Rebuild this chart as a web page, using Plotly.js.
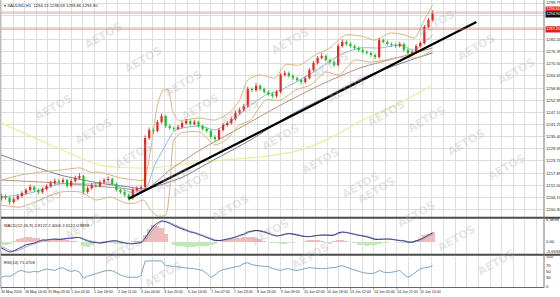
<!DOCTYPE html>
<html><head><meta charset="utf-8">
<script src="https://cdn.plot.ly/plotly-3.0.1.min.js"></script>
<style>html,body{margin:0;padding:0;background:#fff;overflow:hidden}#chart{width:560px;height:297px}</style>
</head><body><div id="chart"></div>
<script>
// ---------- DATA ----------
const openP = [1205.5,1206.8,1205.8,1203.9,1205.3,1206.8,1208.2,1209.7,1211.1,1209.7,
1208.7,1210.2,1211.6,1213.0,1214.0,1213.5,1214.5,1211.6,1214.0,1215.5,
1216.4,1208.7,1210.6,1212.1,1211.6,1213.5,1214.5,1215.0,1212.6,1209.7,
1208.7,1207.3,1205.8,1209.7,1210.6,1211.1,1234.7,1238.6,1238.1,1242.4,
1245.3,1240.5,1239.5,1239.1,1240.0,1241.9,1242.9,1241.5,1242.4,1240.5,
1239.1,1238.1,1235.2,1234.2,1238.6,1241.0,1241.9,1243.9,1246.8,1248.2,
1250.1,1258.3,1257.8,1259.8,1258.3,1256.9,1255.9,1255.0,1256.9,1265.1,
1266.0,1264.6,1263.6,1262.7,1261.7,1263.6,1267.5,1270.9,1273.3,1274.2,
1272.3,1271.3,1269.9,1279.0,1281.0,1280.0,1279.0,1278.1,1277.1,1276.2,
1275.7,1274.7,1273.7,1281.9,1281.0,1280.0,1279.5,1279.0,1280.0,1277.1,
1275.7,1276.2,1279.0,1280.5,1288.2,1291.6];
const highP = [1208.0,1207.6,1206.5,1206.2,1207.5,1209.1,1210.6,1212.3,1211.8,1210.5,
1211.0,1212.4,1214.1,1215.2,1214.9,1215.6,1215.1,1214.9,1216.6,1217.8,
1217.0,1211.5,1213.0,1212.9,1214.4,1215.4,1216.2,1215.7,1213.3,1210.4,
1209.5,1208.0,1210.6,1211.5,1212.0,1236.0,1239.8,1239.6,1243.5,1246.6,
1246.0,1241.3,1240.3,1241.0,1242.9,1243.9,1243.6,1243.4,1243.1,1241.2,
1239.8,1238.8,1236.0,1239.5,1242.0,1242.8,1244.9,1247.8,1249.3,1251.2,
1259.4,1259.1,1261.2,1260.6,1259.0,1257.7,1256.6,1257.8,1266.0,1267.2,
1266.8,1265.4,1264.3,1263.4,1264.5,1268.4,1271.9,1274.2,1275.6,1275.0,
1273.0,1272.0,1280.1,1282.2,1281.8,1280.8,1279.7,1278.8,1277.9,1277.0,
1276.4,1275.5,1283.0,1282.7,1281.8,1280.8,1280.3,1281.1,1280.7,1277.9,
1277.0,1279.8,1281.3,1289.2,1292.5,1296.2];
const lowP = [1204.6,1204.9,1202.6,1203.2,1204.6,1206.1,1207.4,1208.9,1208.8,1207.6,
1208.0,1209.5,1210.9,1212.2,1212.6,1212.8,1210.7,1211.0,1213.3,1214.8,
1207.5,1207.9,1209.9,1210.8,1210.9,1212.8,1213.7,1211.8,1208.9,1207.9,
1206.4,1204.6,1205.1,1208.9,1209.8,1210.2,1233.9,1236.8,1237.4,1241.6,
1239.6,1238.7,1238.2,1238.4,1239.3,1241.1,1240.7,1240.8,1239.8,1238.3,
1237.3,1234.4,1232.9,1233.5,1237.9,1240.2,1241.2,1243.1,1246.0,1247.5,
1249.4,1256.9,1257.0,1257.5,1256.1,1255.1,1254.0,1254.2,1256.2,1264.3,
1263.8,1262.7,1261.8,1260.6,1261.0,1262.9,1266.8,1270.1,1272.5,1271.5,
1270.5,1268.8,1269.2,1278.3,1279.2,1278.3,1277.2,1276.3,1275.4,1274.9,
1273.8,1272.6,1273.0,1280.2,1279.3,1278.7,1278.2,1278.3,1276.3,1274.8,
1275.0,1275.5,1278.3,1279.8,1287.5,1290.8];
const closeP = [1206.8,1205.8,1203.9,1205.3,1206.8,1208.2,1209.7,1211.1,1209.7,1208.7,
1210.2,1211.6,1213.0,1214.0,1213.5,1214.5,1211.6,1214.0,1215.5,1216.4,
1208.7,1210.6,1212.1,1211.6,1213.5,1214.5,1215.0,1212.6,1209.7,1208.7,
1207.3,1205.8,1209.7,1210.6,1211.1,1234.7,1238.6,1238.1,1242.4,1245.3,
1240.5,1239.5,1239.1,1240.0,1241.9,1242.9,1241.5,1242.4,1240.5,1239.1,
1238.1,1235.2,1234.2,1238.6,1241.0,1241.9,1243.9,1246.8,1248.2,1250.1,
1258.3,1257.8,1259.8,1258.3,1256.9,1255.9,1255.0,1256.9,1265.1,1266.0,
1264.6,1263.6,1262.7,1261.7,1263.6,1267.5,1270.9,1273.3,1274.2,1272.3,
1271.3,1269.9,1279.0,1281.0,1280.0,1279.0,1278.1,1277.1,1276.2,1275.7,
1274.7,1273.7,1281.9,1281.0,1280.0,1279.5,1279.0,1280.0,1277.1,1275.7,
1276.2,1279.0,1280.5,1288.2,1291.6,1294.9];
// hourly bar number of each drawn candle (one candle per 3 H1 bars)
const barNo = closeP.map((_, k) => k * 3);

// overlay lines: [bar number, price]
const bbUpperX = [0,14,28,43,58,65,72,87,98,104,109,114,118,122,125,129,145,156,167,174,180,189,200,207,218,229,240,251,262,273,284,295,302,309,315];
const bbUpperY = [1214.5,1216.9,1218.3,1219.3,1220.3,1218.3,1218.3,1215.5,1214.5,1214.5,1228.9,1250.6,1257.8,1257.8,1248.2,1243.4,1244.4,1243.4,1247.2,1253.0,1262.7,1265.1,1263.6,1269.9,1269.9,1274.7,1278.1,1284.3,1283.9,1281.9,1285.3,1284.3,1282.9,1291.6,1298.8];
const bbLowerX = [0,14,28,43,58,69,80,91,98,104,109,114,120,123,126,131,145,156,164,174,182,193,204,215,226,237,247,258,269,280,291,302,309,315];
const bbLowerY = [1202.4,1201.5,1204.9,1208.7,1208.7,1204.9,1206.3,1203.4,1203.4,1204.9,1200.0,1197.2,1197.6,1209.7,1233.8,1237.1,1237.6,1231.4,1233.8,1241.0,1243.4,1253.0,1253.0,1257.8,1260.3,1266.5,1265.1,1272.3,1271.3,1272.3,1273.7,1273.3,1274.7,1277.1];
const maFastX = [0,21,43,65,80,94,105,112,120,127,145,156,167,182,193,204,218,233,247,262,277,291,302,309,315];
const maFastY = [1206.3,1208.2,1212.6,1212.6,1213.0,1208.7,1209.7,1221.7,1231.4,1238.6,1240.5,1238.6,1242.4,1250.6,1255.4,1257.8,1262.7,1268.5,1274.7,1278.1,1278.1,1279.5,1277.1,1281.0,1284.3];
const maMidX = [0,43,87,105,123,145,174,204,233,262,291,315];
const maMidY = [1214.5,1213.0,1210.6,1209.7,1219.3,1228.9,1239.5,1250.6,1260.3,1268.5,1273.7,1278.1];
const maSlowX = [0,21,43,72,94,105,131,155,182,211,240,269,299,315];
const maSlowY = [1226.5,1221.7,1216.9,1213.0,1211.1,1210.2,1215.5,1224.1,1233.8,1245.8,1255.4,1265.1,1272.3,1275.7];
const ma200X = [0,36,72,109,145,189,218,240,264,291,315];
const ma200Y = [1241.9,1231.4,1221.7,1220.3,1223.2,1225.6,1228.9,1234.7,1243.4,1251.6,1260.3];
const trendX = [93, 347];
const trendY = [1205.5, 1290.6];
const levelLine = 1287.2;
const askLevel = 1296.6;

// MACD panel
const macdMain = [-2.1,-2.8,-3.4,-3.1,-2.4,-1.8,-1.1,-0.8,-0.5,0,
0.5,0.5,0.7,0.8,0.7,0.8,1.0,1.1,1.3,1.3,
0.7,0.2,-0.2,-0.3,-0.5,-0.3,0,0.2,0.2,-0.2,
-0.5,-0.7,-0.7,-0.5,-0.3,1.1,3.1,5.0,6.0,6.7,
6.4,5.9,5.2,4.6,4.1,3.6,3.1,2.8,2.3,1.8,
1.3,0.8,0.3,0.3,0.5,0.8,1.1,1.5,2.0,2.4,
3.1,3.4,3.6,3.4,3.1,2.6,2.1,1.8,2.0,2.4,
2.6,2.4,2.1,1.8,1.6,1.6,1.8,2.0,2.1,2.1,
2.0,2.1,2.8,3.1,2.9,2.6,2.3,2.0,1.8,1.5,
1.1,0.7,0.7,0.8,0.8,0.7,0.5,0.3,0.2,-0.2,
-0.2,0.2,0.7,1.3,2.1,2.8];
const macdSignal = [-1.6,-2.2,-2.8,-3.1,-2.9,-2.4,-1.8,-1.2,-0.8,-0.4,
0.1,0.4,0.6,0.7,0.7,0.8,0.9,1.0,1.2,1.3,
1.0,0.5,0.1,-0.2,-0.4,-0.4,-0.2,0.1,0.2,0.0,
-0.3,-0.6,-0.7,-0.6,-0.4,0.3,2.0,4.0,5.5,6.4,
6.6,6.2,5.6,5.0,4.4,3.9,3.4,3.0,2.6,2.1,
1.6,1.1,0.6,0.3,0.4,0.6,0.9,1.3,1.7,2.2,
2.7,3.2,3.5,3.5,3.3,2.9,2.4,2.0,1.9,2.2,
2.5,2.5,2.3,2.0,1.7,1.6,1.7,1.9,2.0,2.1,
2.1,2.1,2.4,2.9,3.0,2.8,2.5,2.2,1.9,1.7,
1.3,0.9,0.7,0.7,0.8,0.8,0.6,0.4,0.3,0.0,
-0.2,0.0,0.4,1.0,1.7,2.4];
const macdHist = [-1.0,-1.2,-0.8,0.3,0.9,1.3,1.5,1.5,1.3,1.0,
0.6,0.5,0.6,0.7,0.6,0.5,0.4,0.3,0.2,-0.3,
-1.5,-1.8,-1.2,-0.6,-0.3,0.1,-0.2,-0.5,-0.8,-0.7,
-0.4,-0.2,0.1,0.2,0.3,2.0,4.2,5.4,5.2,4.5,
2.5,-0.3,-1.0,-1.4,-1.6,-1.8,-1.8,-1.7,-1.6,-1.5,
-1.3,-1.2,-0.8,-0.3,0.1,0.4,0.7,1.0,1.2,1.4,
1.5,1.4,1.2,0.8,0.3,-0.2,-0.5,-0.6,-0.7,-0.8,
-0.6,-0.4,-0.3,-0.2,0.2,0.4,0.6,0.5,0.3,-0.5,
-0.7,0.3,0.6,0.5,0.2,-0.3,-0.6,-1.0,-1.2,-1.3,
-1.2,-1.0,-0.7,-0.5,-0.4,-0.3,-0.3,-0.4,-0.5,-0.6,
-0.4,0.4,1.2,2.0,2.6,3.0];
// RSI panel
const rsi = [32,37,35,42,52,55,50,49,52,50,
56,60,58,55,62,64,56,52,55,50,
29,36,40,45,49,53,55,54,48,40,
35,32,33,32,38,86,87,87,87,87,
71,71,68,66,65,64,62,61,58,55,
45,32,40,52,58,61,64,68,70,78,
81,74,71,70,69,68,62,58,55,60,
61,57,55,58,62,65,63,61,61,62,
63,65,68,71,66,61,57,52,48,46,
45,47,55,50,48,49,52,55,42,32,
40,50,61,64,66,71];

// tick labels
const timeLabels = ["30 May 2016","30 May 16:00","31 May 09:00","1 Jun 02:00","1 Jun 18:00","2 Jun 11:00","3 Jun 04:00","3 Jun 20:00","6 Jun 14:00","7 Jun 07:00","7 Jun 23:00","8 Jun 16:00","9 Jun 09:00","10 Jun 02:00","10 Jun 18:00","13 Jun 12:00","14 Jun 05:00","14 Jun 21:00","15 Jun 14:00"];
const labelEvery = 17;           // bars between time labels
const macdTickVals = [7.0, 0, -3.2];
const macdTickText = ["6.9898","0.00","-3.6594"];
const rsiTickVals = [100, 70, 50, 30, 0];

// ---------- CHART ----------
const W = 544, H = 297;
const py = p => 1 - p / H;
const xRange = [-1, 396.4];

const gridTickVals = [];
for (let i = 0; i * labelEvery / 2 <= xRange[1]; i++) gridTickVals.push(i * labelEvery / 2);

const gridC = "#dedede";
const fnt = {family: "Liberation Sans, Arial, sans-serif", size: 4.2, color: "#222"};
const fntS = {...fnt, size: 3.6};

const line = (x, y, color, w, ya) => ({type: "scatter", mode: "lines", x, y, xaxis: "x", yaxis: ya || "y",
  line: {color, width: w, shape: "spline", smoothing: 0.6}, hoverinfo: "skip"});

// candles drawn as wick + body segments through the price scale
function candleSegs(up) {
  const wx = [], wy = [], bx = [], by = [];
  closeP.forEach((c, k) => {
    const o = openP[k];
    if ((c >= o) !== up) return;
    wx.push(barNo[k], barNo[k], null); wy.push(lowP[k], highP[k], null);
    const lo = Math.min(o, c), hi = Math.max(o, c);
    bx.push(barNo[k], barNo[k], null); by.push(lo, hi === lo ? hi + 0.3 : hi, null);
  });
  const col = up ? "#e8251c" : "#1fbf2a";
  return [
    {type: "scatter", mode: "lines", x: wx, y: wy, xaxis: "x", yaxis: "y", line: {color: col, width: 0.9}, hoverinfo: "skip"},
    {type: "scatter", mode: "lines", x: bx, y: by, xaxis: "x", yaxis: "y", line: {color: col, width: 2.2}, hoverinfo: "skip"}
  ];
}

const traces = [
  line(ma200X, ma200Y, "#eeeaa0", 1.2),
  line(maSlowX, maSlowY, "#7c7c98", 1),
  line(maMidX, maMidY, "#b89080", 1),
  line(bbUpperX, bbUpperY, "#d8b47e", 1),
  line(bbLowerX, bbLowerY, "#d8b47e", 1),
  line(maFastX, maFastY, "#8db8d8", 1),
  ...candleSegs(true), ...candleSegs(false),
  {type: "scatter", mode: "lines", x: trendX, y: trendY, xaxis: "x", yaxis: "y",
   line: {color: "#000", width: 2.2}, hoverinfo: "skip"},
  // MACD
  {type: "bar", x: barNo, y: macdHist, xaxis: "x", yaxis: "y2", width: 3,
   marker: {color: macdHist.map(v => v >= 0 ? "#ecbcbc" : "#bfe9b6"), line: {width: 0}}, hoverinfo: "skip"},
  line(barNo, macdSignal, "#a4a4c4", 1, "y2"),
  line(barNo, macdMain, "#25307f", 1, "y2"),
  // RSI
  {type: "scatter", mode: "lines", x: barNo, y: rsi, xaxis: "x", yaxis: "y3",
   line: {color: "#7aa6c6", width: 1}, hoverinfo: "skip"}
];

const annotations = [];
// watermark
for (let i = -4; i <= 6; i++) for (let j = -4; j <= 14; j++) {
  const ax = 160 + 130 * i + 40 * j, ay = 65 - 42 * i + 24 * j;
  if (ax > 5 && ax < 550 && ay > 0 && ay < 296) {
    annotations.push({xref: "paper", yref: "paper", x: ax / W, y: py(ay), text: "<b>AETOS</b>",
      showarrow: false, textangle: -30, font: {family: "DejaVu Sans", size: 11, color: "rgba(170,170,170,0.3)"}});
  }
}
// time labels
timeLabels.forEach((t, i) => annotations.push({xref: "x", yref: "paper", x: i * labelEvery, y: py(289.2), xanchor: "left",
  yanchor: "top", showarrow: false, text: t, font: fntS, xshift: -1, borderpad: 0}));
const boxLabel = (yv, txt, bg) => ({xref: "paper", yref: "y", x: 1.0, y: yv, xanchor: "left", showarrow: false,
  text: txt, bgcolor: bg, font: {...fnt, size: 3.8, color: "#fff"}, borderpad: 0.3, xshift: 0.5});
annotations.push(
  {xref: "paper", yref: "paper", x: 0.004, y: py(1.2), xanchor: "left", yanchor: "top", showarrow: false,
   text: "▾ XAUUSD,H1  1294.13 1296.59 1293.86 1294.90", font: fnt},
  {xref: "paper", yref: "paper", x: 0.004, y: py(220.5), xanchor: "left", yanchor: "top", showarrow: false,
   text: "MACD(12,26,9) 2.8122 2.4006 2.6122 0.9998", font: fnt},
  {xref: "paper", yref: "paper", x: 0.004, y: py(257.6), xanchor: "left", yanchor: "top", showarrow: false,
   text: "RSI(14) 71.4708", font: fnt},
  boxLabel(askLevel, askLevel.toFixed(2), "#e02020"),
  boxLabel(closeP[closeP.length - 1] - 0.9, closeP[closeP.length - 1].toFixed(2), "#111"),
  boxLabel(levelLine, levelLine.toFixed(2), "#e02020")
);

const shapes = [
  {type: "line", xref: "paper", yref: "y", x0: 0, x1: 1, y0: closeP[closeP.length - 1], y1: closeP[closeP.length - 1],
   line: {color: "#b8b8b8", width: 0.8}},
  {type: "line", xref: "paper", yref: "y", x0: 0, x1: 1, y0: askLevel - 1.2, y1: askLevel - 1.2, line: {color: "#f0a8a8", width: 0.8}},
  {type: "line", xref: "paper", yref: "y", x0: 0, x1: 1, y0: levelLine, y1: levelLine, line: {color: "#e06a6a", width: 0.8}},
  {type: "line", xref: "paper", yref: "paper", x0: 0, x1: 560 / W, y0: py(217.8), y1: py(217.8), line: {color: "#4a4a4a", width: 2}},
  {type: "line", xref: "paper", yref: "paper", x0: 0, x1: 560 / W, y0: py(254.8), y1: py(254.8), line: {color: "#4a4a4a", width: 2}},
  {type: "line", xref: "paper", yref: "paper", x0: 0, x1: 1, y0: py(287.5), y1: py(287.5), line: {color: "#666", width: 1}},
  {type: "line", xref: "paper", yref: "paper", x0: 1, x1: 1, y0: py(0), y1: py(288), line: {color: "#777", width: 1}},
  {type: "line", xref: "paper", yref: "paper", x0: 0.001, x1: 0.001, y0: py(0), y1: py(288), line: {color: "#bbb", width: 1}}
];
// small tick marks under time labels
timeLabels.forEach((t, i) => shapes.push({type: "line", xref: "x", yref: "paper", x0: i * labelEvery, x1: i * labelEvery,
  y0: py(287.5), y1: py(289.5), line: {color: "#777", width: 0.8}}));

const yCommon = {side: "right", showline: false, ticks: "", tickfont: fnt, gridcolor: gridC, gridwidth: 1,
  zeroline: false, fixedrange: true, ticklabelstandoff: 1};

const layout = {
  width: 560, height: 297, margin: {l: 0, r: 16, t: 0, b: 0},
  paper_bgcolor: "#fff", plot_bgcolor: "#fff", showlegend: false, bargap: 0,
  xaxis: {range: xRange, anchor: "y3", tickmode: "array", tickvals: gridTickVals, showticklabels: false, ticks: "",
    showgrid: true, gridcolor: gridC, zeroline: false, showline: false},
  yaxis: {...yCommon, domain: [py(217), 1], range: [1196.7, 1301.2], tick0: 1299.75, dtick: 5.85, tickformat: ".2f"},
  yaxis2: {...yCommon, domain: [py(254), py(219)], range: [-4.07, 7.33], tickmode: "array",
    tickvals: macdTickVals, ticktext: macdTickText, showgrid: false},
  yaxis3: {...yCommon, domain: [py(287), py(257)], range: [0, 100], tickmode: "array",
    tickvals: rsiTickVals, ticktext: rsiTickVals.map(String), showgrid: false},
  annotations, shapes
};

Plotly.newPlot("chart", traces, layout, {staticPlot: true, displayModeBar: false});
</script>
</body></html>
